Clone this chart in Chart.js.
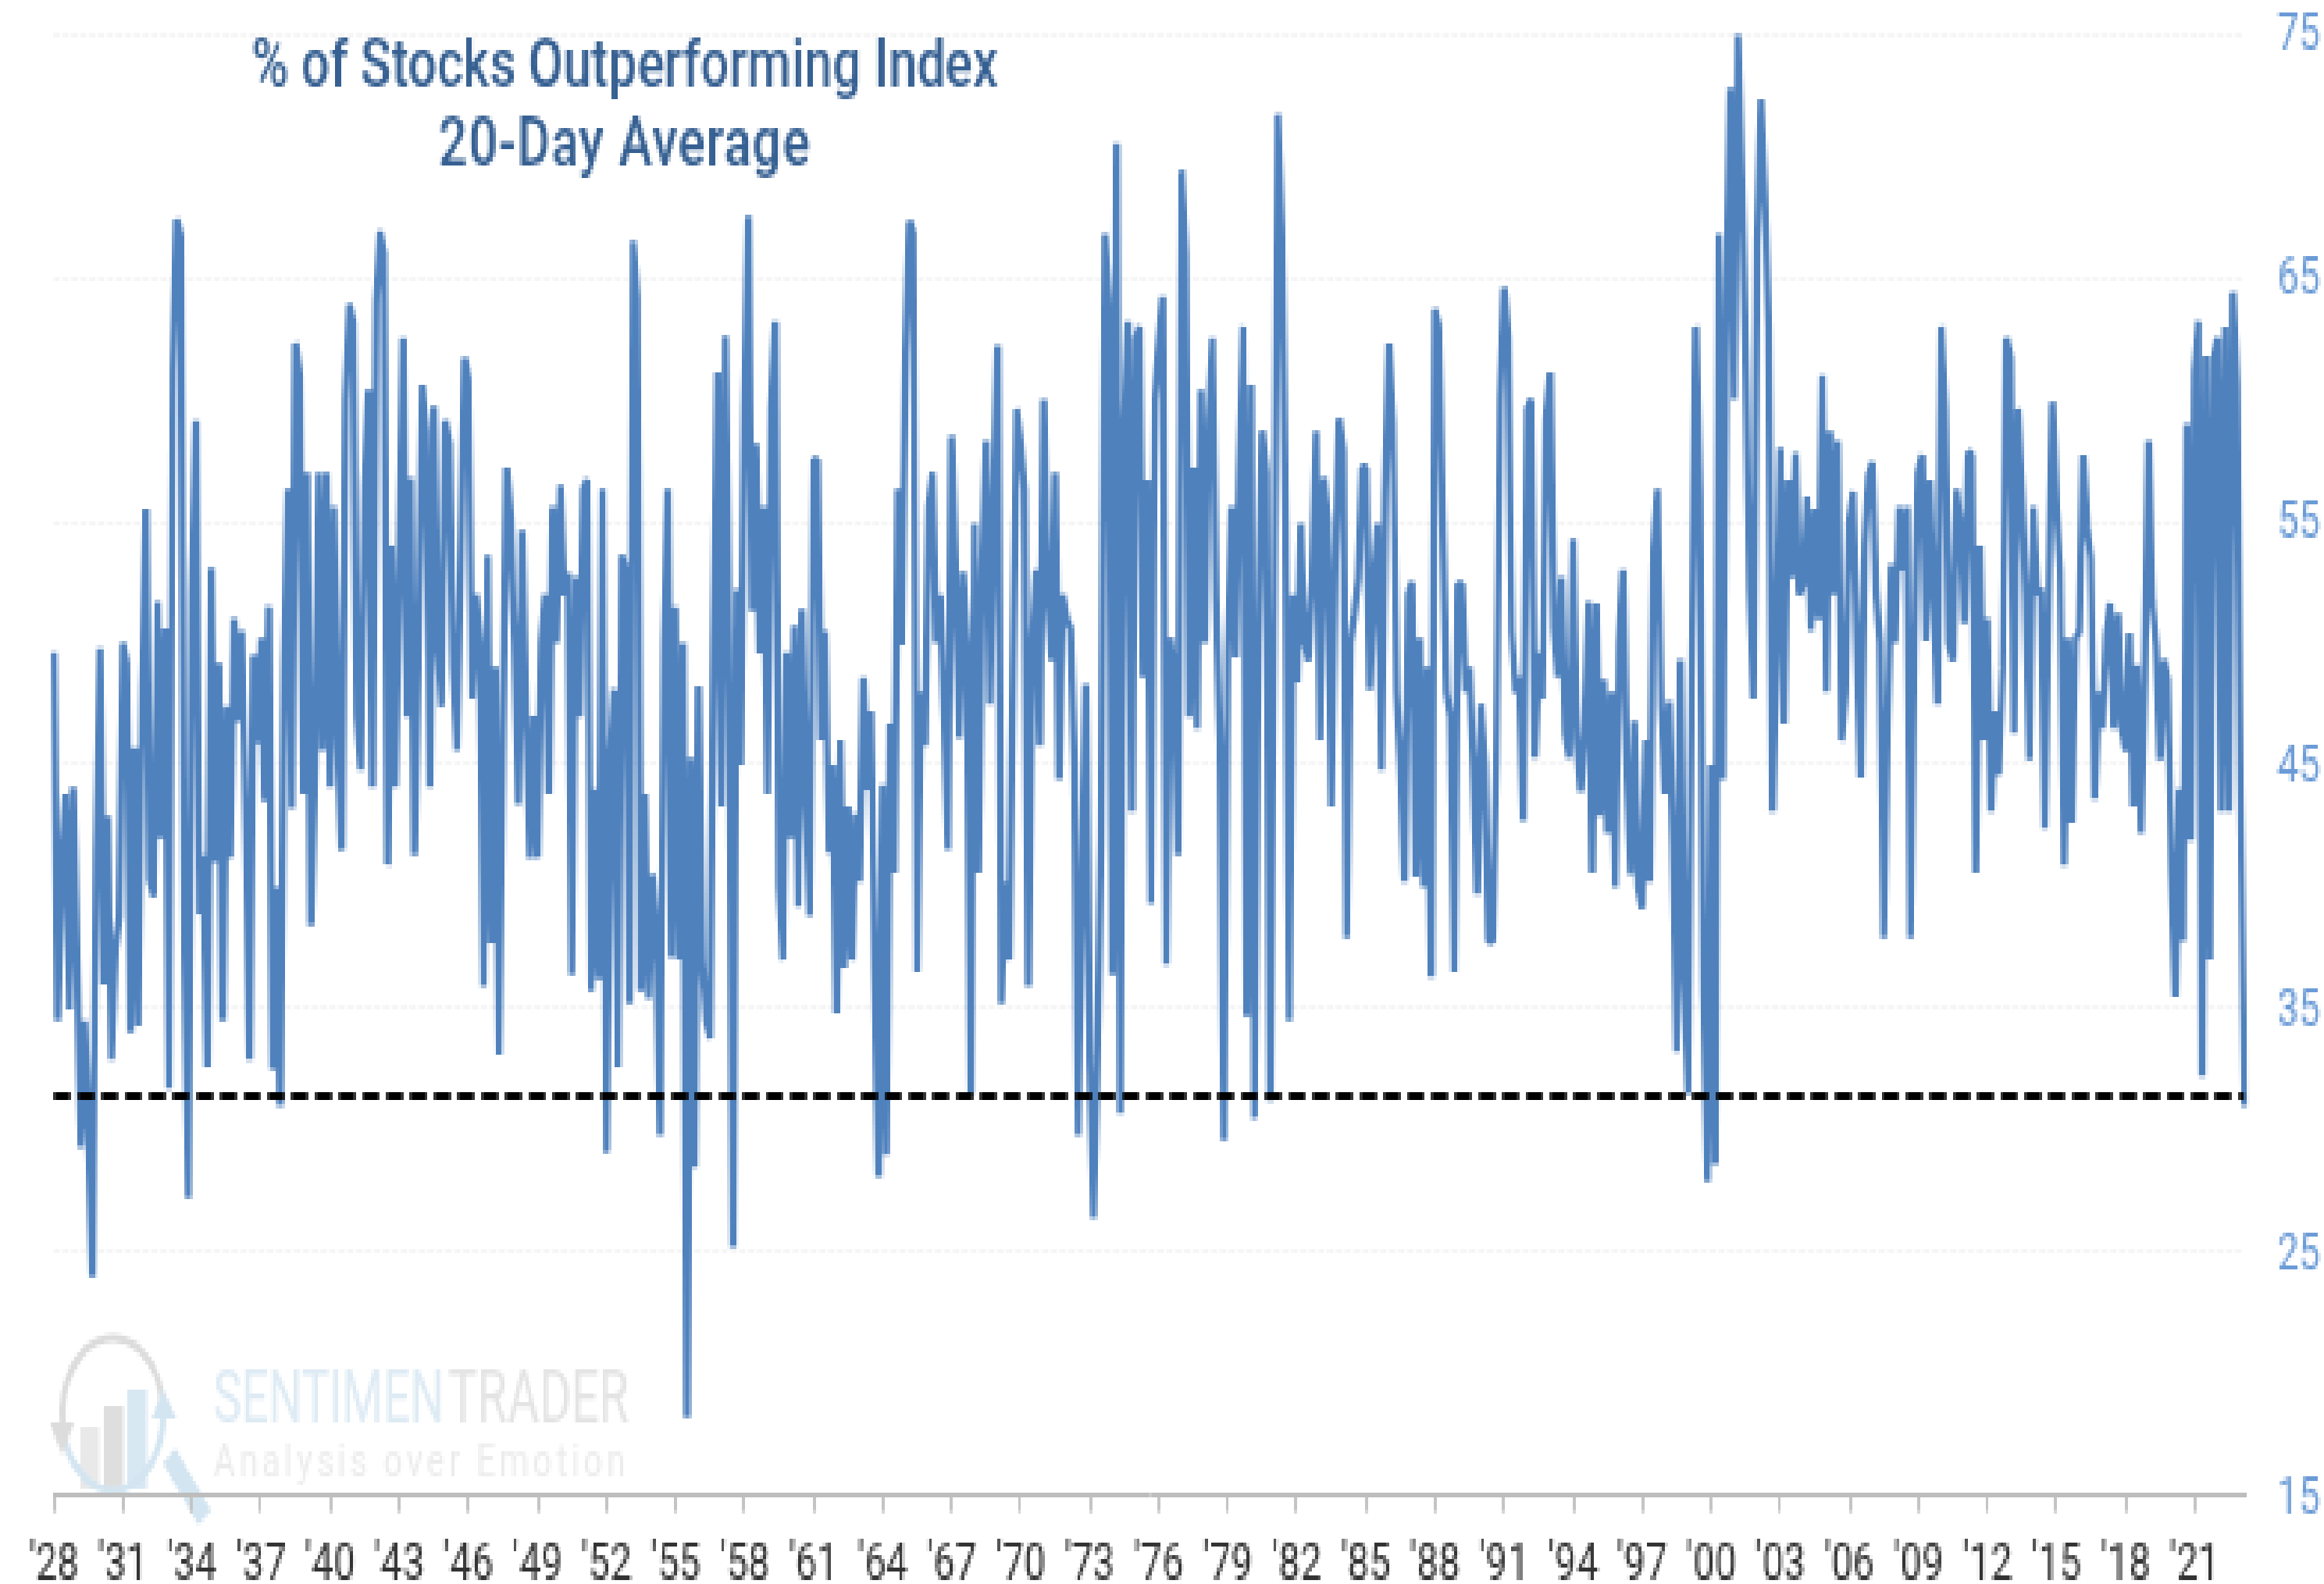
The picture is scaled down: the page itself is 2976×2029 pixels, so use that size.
<!DOCTYPE html>
<html>
<head>
<meta charset="utf-8">
<style>
html,body{margin:0;padding:0;background:#fff;overflow:hidden;width:2976px;height:2029px}
#stage{position:absolute;left:0;top:0;width:783px;height:383px;transform-origin:0 0;transform:scale(3.8007,5.2977)}
canvas{display:block;image-rendering:pixelated}
</style>
<script src="https://cdn.jsdelivr.net/npm/chart.js@4"></script>
</head>
<body>
<div id="stage"><canvas id="c" width="783" height="383"></canvas></div>
<script>
const titleLines = ["% of Stocks Outperforming Index", "20-Day Average"];
const tickLabels = ["'28","'31","'34","'37","'40","'43","'46","'49","'52","'55","'58","'61","'64","'67","'70","'73","'76","'79","'82","'85","'88","'91","'94","'97","'00","'03","'06","'09","'12","'15","'18","'21"];
const yTicks = [15,25,35,45,55,65,75];
const threshold = 31.42;
const brandA = "SENTIMEN", brandB = "TRADER", tagline = "Analysis over Emotion";
// one reading per two months, 18 readings per 3-year tick
const pctOutperforming = [
49.6,34.5,41,43.8,35,44.1,36.9,29.3,34.5,30,24,41.4,49.8,36,42.9,32.9,37.4,38.8,
50,49.2,34,45.7,34.3,48.2,55.5,40.3,39.6,51.7,42,50.6,31.7,61.2,67.4,66.7,37.4,27.2,
52.1,59.1,38.9,41.3,32.6,53.1,41,49.2,34.5,47.4,41.2,51,46.8,50.5,42.5,32.9,49.5,45.9,
50.2,43.5,51.5,32.5,40,31,49.1,56.3,43.2,62.3,61,43.8,57,38.4,45,57,45.6,57,
44.1,55.6,46,41.5,60,63.9,63.2,47,44.8,56.5,60.4,44.1,64,66.9,66,40.9,54,44.1,
53,62.5,47,56.8,41.3,50,60.6,58.7,44.1,59.7,50,47.4,59.1,58.2,49,45.6,53,61.7,
60.8,47.7,52,50,35.9,53.6,37.7,49,33.1,46,57.2,55.1,50,43.4,54.6,47,41.2,47,
41.2,50,52,43.8,55.6,50,56.5,52,52.9,36.4,52.7,47,56.3,56.7,35.7,44,36.2,56.3,
29.1,45,48.1,32.6,53.6,53,35.2,66.5,64.2,35.7,43.8,35.4,40.5,38,29.8,50,56.3,37.1,
51.5,37,50,18.2,45.3,28.5,48.2,37,34.5,33.8,50,61.1,43.3,62.6,50,25.2,52.2,45,
59.6,67.5,51.3,58.2,49.6,55.6,43.8,59.7,63.2,40,37,49.6,42,50.7,39.2,51.4,44,38.8,
57.5,57.5,46,50.5,41.4,45,34.8,46,36.7,43.3,37,43,40.2,48.6,44,47.2,36.3,28.1,
44.2,29,46.7,40.6,56.3,49.9,61.8,67.3,66.8,36.5,48,45.8,55.6,57,50,52,47,41.5,
58.5,52.9,46.1,52.9,50,31.5,54.9,40.6,53,58.3,47.5,56,62.2,35.2,40.2,37,48.9,59.6,
58.2,56.3,35.9,50,53,45.8,60,52,49.3,57,44.4,52,51,50.6,45,29.8,40,48.3,
33,26.4,33,42,66.8,64,36.4,70.5,30.7,58.9,63.2,43.1,62.5,63,48.6,56.7,39.3,60,
62.2,64.2,36.8,50.2,48.9,41.3,69.4,66,47,57.2,46.5,60.4,50,59.1,62.5,51.7,46,29.6,
49.6,55.6,49.4,57.2,63,34.7,60.6,30.5,50,58.7,57,31.2,50,71.7,67,55,34.5,52,
48.4,54.9,50,49.3,52.8,58.7,46,56.8,55,43.3,53.4,59.2,57.9,37.9,50,51.2,52.7,57.2,
57.2,48.1,52.6,54.9,44.8,56,62.3,59.1,48,45,40.2,52,52.5,40.4,50.2,40,49,36.3,
63.7,63,55,48,47,36.5,52.4,52.4,48,49,45,39.7,47.5,45,37.8,37.8,45.3,60,
64.6,62.6,50.5,48,48.6,42.7,59.6,60,45.3,49.6,47.7,59.2,61.1,50.6,48.6,52.7,46.3,45.3,
54.3,46,43.9,46.5,51.7,40.6,51.6,42.9,48.5,42.2,48,40,50,53,44.7,40.5,46.8,40,
39.1,46,40.2,53.8,56.3,47.4,43.8,47.6,41.8,33.25,49.3,36,31.5,50,63,56,35.6,27.9,
45,28.6,66.8,44.4,64.3,72.8,60,75,68.8,61.5,52.2,47.7,66.5,72.3,68.5,63,43.1,50,
58,46.7,56.7,52.7,57.8,52,52.5,56,50.5,55.5,51,61,48,58.7,52,58.3,46,48,
55,56.2,50,44.5,54,56.9,57.4,52,50,37.9,47,53.2,50,55.6,53,55.6,37.9,50,
57,57.7,50.1,56.7,52,47.5,63,59.6,50,49.3,56.3,54.8,50.8,57.8,57.7,40.6,54,46,
51,43.1,47.2,44.6,49,62.5,61.7,46.3,59.6,56.2,52,45.2,55.6,52,52.2,42.4,52,59.9,
55.6,53,40.9,50.2,42.6,50.2,50.5,57.7,54.8,53.5,43.6,48,46.5,50.4,51.6,46.5,51.2,46.5,
45.6,50.4,43.3,49.1,42.2,48.5,58.3,51.7,49.8,45.2,49.3,48.5,40.6,35.5,44,37.8,59,41.9,
61.1,63.2,32.2,61.8,37,61.7,62.5,43.1,63,43.1,64.4,60.6,44,31
];
const labels = pctOutperforming.map((_, i) => (i % 18 === 0 ? tickLabels[i / 18] : ""));
const thresholdLine = pctOutperforming.map(() => threshold);

const decor = {
  id: "decor",
  afterLayout(chart) {
    const y = chart.scales.y, top = 8.2, bottom = chart.chartArea.bottom;
    chart.chartArea.top = top;
    chart.chartArea.height = bottom - top;
    y.top = top;
    y.height = bottom - top;
    y.configure();
  },
  beforeDraw(chart) {
    const c = chart.ctx;
    c.save();
    c.fillStyle = "#ffffff";
    c.fillRect(0, 0, chart.width, chart.height);
    // watermark logo
    c.fillStyle = "#e9e9e9"; c.fillRect(27, 345, 6.5, 15);
    c.fillStyle = "#dedede"; c.fillRect(35, 340, 6.5, 20);
    c.fillStyle = "#d8e8f3"; c.fillRect(43, 336, 6.5, 24);
    c.lineWidth = 2;
    c.strokeStyle = "#dcdcdc";
    c.beginPath(); c.ellipse(38, 342, 17, 18.5, 0, Math.PI * 0.95, Math.PI * 1.95); c.stroke();
    c.strokeStyle = "#d3e5f1";
    c.beginPath(); c.ellipse(38, 342, 17, 18.5, 0, -0.05, Math.PI * 0.95); c.stroke();
    c.fillStyle = "#dcdcdc";
    c.beginPath(); c.moveTo(16.8, 344); c.lineTo(25, 344); c.lineTo(21, 352); c.closePath(); c.fill();
    c.fillStyle = "#d3e5f1";
    c.beginPath(); c.moveTo(51, 343); c.lineTo(59.6, 343); c.lineTo(55, 336); c.closePath(); c.fill();
    c.strokeStyle = "#d3e5f1"; c.lineWidth = 5.5;
    c.beginPath(); c.moveTo(57, 352); c.lineTo(69, 367); c.stroke();
    // watermark text
    c.textBaseline = "alphabetic"; c.textAlign = "left";
    c.font = "400 19px Roboto";
    c.fillStyle = "#deebf4"; c.fillText(brandA, 72, 344.3, 77.5);
    c.fillStyle = "#e4e4e4"; c.fillText(brandB, 151, 344.3, 61);
    c.font = "400 11.5px Roboto";
    c.letterSpacing = "1.4px";
    c.fillStyle = "#ececec"; c.fillText(tagline, 72, 357, 140);
    c.restore();
  },
  afterDatasetsDraw(chart) {
    const c = chart.ctx;
    c.save();
    c.font = "500 17px Roboto";
    c.fillStyle = "#366092";
    c.textAlign = "center";
    c.textBaseline = "middle";
    titleLines.forEach((t, i) => {
      c.letterSpacing = i === 0 ? "0.05px" : "0.4px";
      c.fillText(t, 210.5, 16.7 + i * 19);
    });
    c.restore();
  }
};

new Chart(document.getElementById("c"), {
  type: "line",
  data: {
    labels,
    datasets: [
      { label: "Threshold", data: thresholdLine, borderColor: "#000000", borderWidth: 2, borderDash: [5.6, 2.4], pointRadius: 0, fill: false, order: 0 },
      { label: "% of Stocks Outperforming Index", data: pctOutperforming, borderColor: "#4f81bd", borderWidth: 2.3, borderJoinStyle: "bevel", pointRadius: 0, tension: 0, fill: false, order: 1 }
    ]
  },
  options: {
    responsive: false,
    devicePixelRatio: 1,
    animation: false,
    events: [],
    layout: { padding: { left: 18.2, top: 8.2, right: 0, bottom: 0 } },
    plugins: { legend: { display: false }, tooltip: { enabled: false }, title: { display: false } },
    scales: {
      x: {
        type: "category",
        offset: false,
        afterFit(s) { s.height = 21.3; },
        grid: { drawOnChartArea: false, drawTicks: true, tickLength: 4, color: "#c4c4c4", lineWidth: 1 },
        border: { display: true, color: "#bdbdbd", width: 1 },
        ticks: {
          autoSkip: false, maxRotation: 0, minRotation: 0, padding: 5.5,
          color: "#333333", font: { family: "Roboto", size: 13 },
          callback(v) { const l = this.getLabelForValue(v); return l === "" ? null : l; }
        }
      },
      y: {
        position: "right",
        min: 15, max: 75,
        afterFit(s) { s.width = 26.8; },
        afterBuildTicks(s) { s.ticks = yTicks.map(v => ({ value: v })); },
        grid: { drawTicks: false, color: "#f5f5f5", lineWidth: 1 },
        border: { display: false, dash: [2, 1] },
        ticks: { padding: 11, labelOffset: 1, color: "#6b9bd6", font: { family: "Roboto", size: 13 } }
      }
    }
  },
  plugins: [decor]
});
</script>
</body>
</html>
